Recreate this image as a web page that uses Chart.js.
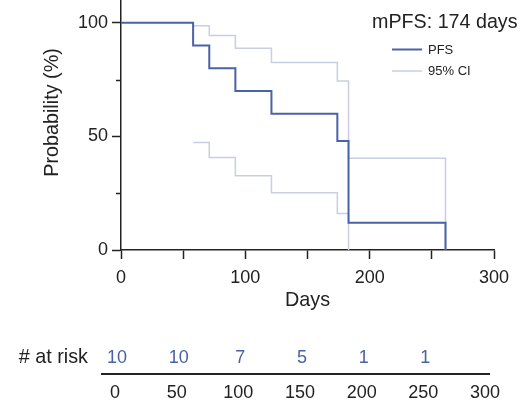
<!DOCTYPE html>
<html>
<head>
<meta charset="utf-8">
<script src="https://cdn.jsdelivr.net/npm/chart.js@4"></script>
<style>
  body { margin: 0; background: #fff; }
  #wrap { position: relative; width: 532px; height: 405px; }
  canvas { position: absolute; left: 0; }
</style>
</head>
<body>
<div id="wrap">
  <canvas id="kmChart" width="532" height="318" style="top:0"></canvas>
  <canvas id="riskChart" width="532" height="87" style="top:318px"></canvas>
</div>
<script>
// Kaplan-Meier estimate (days, %)
const days = [0, 58, 71, 92, 121, 174, 183, 261];
const pfs = [100, 90, 80, 70, 60, 48, 12, 0];

// 95% confidence band
const ciDays = [58, 71, 92, 121, 174, 183, 261];
const ciUpper = [98.7, 94.4, 88.8, 82.5, 74.4, 40.4, 0];
const ciLower = [47.3, 40.7, 32.7, 25.2, 16.1, 0, null];

// number at risk
const riskTimes = [0, 50, 100, 150, 200, 250];
const atRisk = [10, 10, 7, 5, 1, 1];

const xTicks = [0, 50, 100, 150, 200, 250, 300];
const yTicks = [0, 25, 50, 75, 100];
const riskTicks = [0, 50, 100, 150, 200, 250, 300];

const medianDays = 174;

const FONT = "'Liberation Sans', Arial, Helvetica, sans-serif";
const INK = '#222';
const BLUE = '#4a62a6';
const LIGHT = '#c9cee2';

Chart.defaults.font.family = FONT;
Chart.defaults.color = INK;

function toPoints(xs, ys) {
  return xs.map((x, i) => ({ x: x, y: ys[i] }));
}

const kmExtras = {
  id: 'kmExtras',
  afterDraw(chart) {
    const ctx = chart.ctx;
    const y = chart.scales.y;
    const left = chart.chartArea.left;
    ctx.save();

    // short minor ticks on the y axis
    ctx.strokeStyle = INK;
    ctx.lineWidth = 1.5;
    yTicks.filter(v => v % 50 !== 0).forEach(v => {
      const py = Math.round(y.getPixelForValue(v)) + 0.5;
      ctx.beginPath();
      ctx.moveTo(left - 5, py);
      ctx.lineTo(left, py);
      ctx.stroke();
    });

    // y axis title
    ctx.fillStyle = INK;
    ctx.font = '19.8px ' + FONT;
    ctx.textAlign = 'center';
    ctx.textBaseline = 'alphabetic';
    ctx.translate(57.5, 112.5);
    ctx.rotate(-Math.PI / 2);
    ctx.fillText('Probability (%)', 0, 0);
    ctx.setTransform(1, 0, 0, 1, 0, 0);

    // legend
    ctx.textAlign = 'left';
    ctx.font = '19.7px ' + FONT;
    ctx.fillText('mPFS: ' + medianDays + ' days', 372, 28);

    const ds = chart.data.datasets;
    ctx.font = '13px ' + FONT;
    ctx.textBaseline = 'middle';
    [[ds[0], 49.5], [ds[1], 71]].forEach(([d, ly]) => {
      ctx.strokeStyle = d.borderColor;
      ctx.lineWidth = d.borderWidth;
      ctx.beginPath();
      ctx.moveTo(392, ly);
      ctx.lineTo(422, ly);
      ctx.stroke();
      ctx.fillText(d.label, 428, ly + 0.5);
    });
    ctx.restore();
  }
};

new Chart(document.getElementById('kmChart'), {
  type: 'line',
  data: {
    datasets: [
      {
        label: 'PFS',
        data: toPoints(days, pfs),
        borderColor: BLUE,
        borderWidth: 2,
        stepped: true,
        pointRadius: 0
      },
      {
        label: '95% CI',
        data: toPoints(ciDays, ciUpper),
        borderColor: LIGHT,
        borderWidth: 1.5,
        stepped: true,
        pointRadius: 0
      },
      {
        label: '95% CI lower',
        data: toPoints(ciDays, ciLower),
        borderColor: LIGHT,
        borderWidth: 1.5,
        stepped: true,
        pointRadius: 0,
        spanGaps: false
      }
    ]
  },
  options: {
    responsive: false,
    animation: false,
    layout: { padding: { left: 0, right: 38, top: 0, bottom: 0 } },
    plugins: { legend: { display: false }, tooltip: { enabled: false } },
    scales: {
      x: {
        type: 'linear',
        min: 0,
        max: 300,
        afterBuildTicks: s => { s.ticks = xTicks.map(v => ({ value: v })); },
        ticks: {
          callback: v => (v % 100 === 0 ? v : ''),
          font: { size: 18 },
          color: INK,
          padding: 8,
          maxRotation: 0,
          autoSkip: false
        },
        grid: { drawOnChartArea: false, tickLength: 9, tickColor: INK, tickWidth: 1.5 },
        border: { color: INK, width: 1.5 },
        title: { display: true, text: 'Days', font: { size: 19.8 }, color: INK, padding: { top: 0, bottom: 6 } },
        afterFit: s => { s.height = 68; s.paddingLeft = 0; s.paddingRight = 0; }
      },
      y: {
        min: 0,
        max: 110,
        afterBuildTicks: s => { s.ticks = yTicks.map(v => ({ value: v })); },
        ticks: {
          callback: v => (v % 50 === 0 ? v : ''),
          font: { size: 18 },
          color: INK,
          padding: 4,
          autoSkip: false
        },
        grid: {
          drawOnChartArea: false,
          tickLength: 9,
          tickWidth: 1.5,
          tickColor: c => (c.tick && c.tick.value % 50 !== 0 ? 'rgba(0,0,0,0)' : INK)
        },
        border: { color: INK, width: 1.5 },
        afterFit: s => { s.width = 121; s.paddingTop = 0; s.paddingBottom = 0; }
      }
    }
  },
  plugins: [kmExtras]
});

const riskLabels = {
  id: 'riskLabels',
  afterDraw(chart) {
    const ctx = chart.ctx;
    const x = chart.scales.x;
    ctx.save();
    ctx.font = '19.8px ' + FONT;
    ctx.textBaseline = 'middle';
    ctx.fillStyle = INK;
    ctx.textAlign = 'right';
    ctx.fillText('# at risk', 88, 40);
    ctx.textAlign = 'center';
    ctx.fillStyle = BLUE;
    ctx.font = '18px ' + FONT;
    riskTimes.forEach((t, i) => {
      ctx.fillText(String(atRisk[i]), x.getPixelForValue(t) + 2, 40);
    });
    ctx.restore();
  }
};

new Chart(document.getElementById('riskChart'), {
  type: 'scatter',
  data: { datasets: [{ data: toPoints(riskTimes, atRisk), pointRadius: 0 }] },
  options: {
    responsive: false,
    animation: false,
    layout: { padding: { left: 102, right: 43, top: 0, bottom: 0 } },
    plugins: { legend: { display: false }, tooltip: { enabled: false } },
    scales: {
      x: {
        type: 'linear',
        min: -10.5,
        max: 303.2,
        afterBuildTicks: s => { s.ticks = riskTicks.map(v => ({ value: v })); },
        ticks: { font: { size: 18 }, color: INK, padding: 8, maxRotation: 0, autoSkip: false },
        grid: { drawOnChartArea: false, drawTicks: false },
        border: { color: INK, width: 2 },
        afterFit: s => { s.height = 31; s.paddingLeft = 0; s.paddingRight = 0; }
      },
      y: { display: false, min: 0, max: 20 }
    }
  },
  plugins: [riskLabels]
});
</script>
</body>
</html>
